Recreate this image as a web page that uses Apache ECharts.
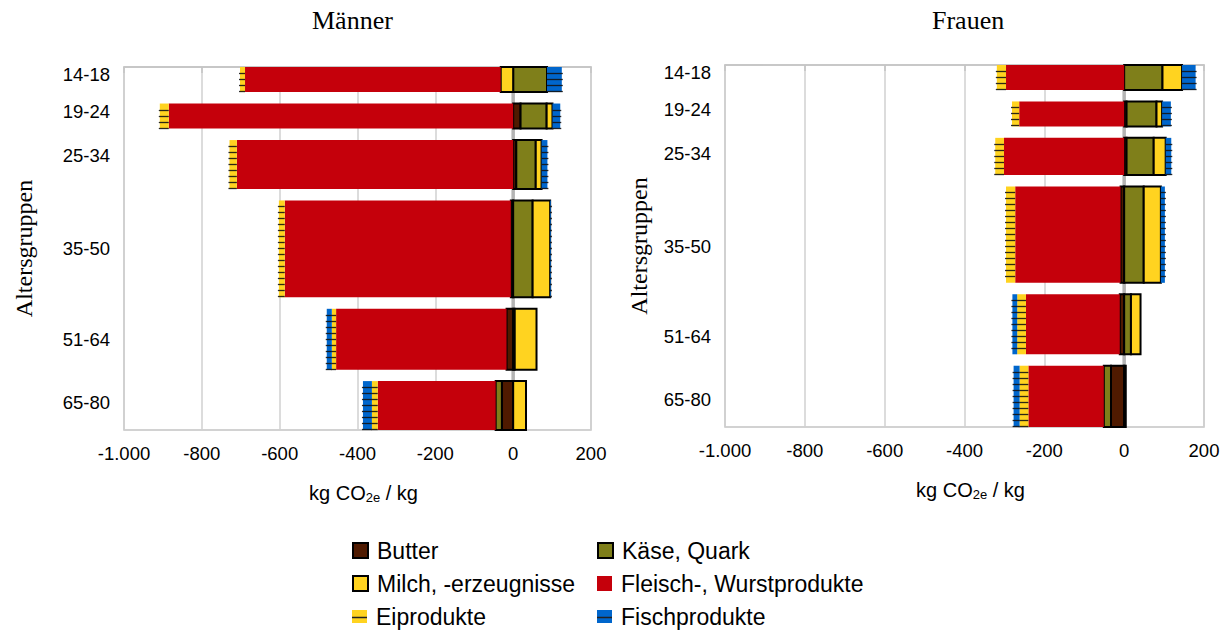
<!DOCTYPE html>
<html><head><meta charset="utf-8">
<script src="https://cdn.jsdelivr.net/npm/echarts@6/dist/echarts.min.js"></script>
<style>html,body{margin:0;padding:0;background:#fff}#c{width:1229px;height:630px}</style>
</head><body><div id="c"></div>
<script>
// ---------- data ----------
const ageGroups = ['14-18', '19-24', '25-34', '35-50', '51-64', '65-80'];
const seriesNames = ['Butter', 'Käse, Quark', 'Milch, -erzeugnisse', 'Fleisch-, Wurstprodukte', 'Eiprodukte', 'Fischprodukte'];
const xTicks = [-1000, -800, -600, -400, -200, 0, 200];

// population share of each age group (%) -> bar thickness
const shareMaenner = [8.2, 8.2, 16.0, 31.7, 19.9, 16.0];
const shareFrauen  = [8.2, 8.2, 12.2, 31.6, 19.7, 20.1];

// kg CO2e / kg
const maennerButter  = [0, 19, 8, -6, -17, -29];
const maennerKaese   = [87, 67, 50, 50, 4, -16];
const maennerMilch   = [-32, 15, 15, 45, 56, 33];
const maennerFleisch = [-657, -885, -710, -581, -438, -303];
const maennerEi      = [-13, -23, -19, -15, -11, -15];
const maennerFisch   = [38, 20, 15, 2, -13, -23];

const frauenButter  = [0, 6, 6, -9, -11, -33];
const frauenKaese   = [96, 75, 68, 49, 17, -18];
const frauenMilch   = [49, 14, 30, 43, 24, 4];
const frauenFleisch = [-296, -263, -301, -264, -235, -189];
const frauenEi      = [-23, -18, -22, -23, -22, -22];
const frauenFisch   = [34, 22, 14, 10, -12, -15];

// ---------- styling ----------
const GAP = 3.75;
const COLORS = ['#4f1a00', '#7f7f1a', '#ffd320', '#c5000b', '#ffd320', '#0066cc'];
const KIND = ['border', 'border', 'border', 'plain', 'hatch', 'hatch'];
const SANS = 'Liberation Sans';
const SERIF = 'Liberation Serif';

function makeRender(kind, color) {
  return function (params, api) {
    const x0 = api.value(0), x1 = api.value(1), y0 = api.value(2), y1 = api.value(3);
    if (x0 === x1) return null;
    const p0 = api.coord([x0, y0]);
    const p1 = api.coord([x1, y1]);
    const r = {
      x: Math.min(p0[0], p1[0]), y: Math.min(p0[1], p1[1]),
      width: Math.abs(p1[0] - p0[0]), height: Math.abs(p1[1] - p0[1])
    };
    if (kind === 'border') {
      return { type: 'rect', shape: r, style: { fill: color, stroke: '#000', lineWidth: 2 } };
    }
    if (kind === 'plain') {
      return { type: 'rect', shape: r, style: { fill: color } };
    }
    const children = [{ type: 'rect', shape: r, style: { fill: color } }];
    const negative = api.value(4) < 0;
    for (let y = r.y + 6; y < r.y + r.height - 0.5; y += 6) {
      const yy = Math.round(y) + 0.5;
      children.push({
        type: 'line',
        shape: { x1: negative ? r.x - 1 : r.x, y1: yy, x2: negative ? r.x + r.width : r.x + r.width + 1, y2: yy },
        style: { stroke: 'rgba(20,20,20,0.9)', lineWidth: 1.3 }
      });
    }
    return { type: 'group', children };
  };
}

function groupStarts(shares) {
  const out = []; let acc = 0;
  shares.forEach(s => { out.push(acc); acc += s + GAP; });
  return out;
}
function total(shares) { return shares.reduce((a, b) => a + b, 0) + GAP * (shares.length - 1); }
function centersOf(shares) { return groupStarts(shares).map((y, i) => y + shares[i] / 2); }

function buildSeries(values, shares, idx) {
  const n = ageGroups.length;
  const pos = new Array(n).fill(0), neg = new Array(n).fill(0);
  const ys = groupStarts(shares);
  const list = values.map((arr, s) => {
    const data = arr.map((v, i) => {
      let a, b;
      if (v >= 0) { a = pos[i]; b = a + v; pos[i] = b; }
      else { a = neg[i]; b = a + v; neg[i] = b; }
      return [a, b, ys[i], ys[i] + shares[i], v];
    });
    return {
      type: 'custom', name: seriesNames[s], xAxisIndex: idx, yAxisIndex: idx,
      data, encode: { x: [0, 1], y: [2, 3] }, z: 3,
      itemStyle: { color: COLORS[s] },
      renderItem: makeRender(KIND[s], COLORS[s])
    };
  });
  list.push({
    type: 'custom', name: 'zero' + idx, xAxisIndex: idx, yAxisIndex: idx, silent: true, z: 2,
    data: [[0, 0, total(shares)]], encode: { x: 0, y: [1, 2] },
    renderItem: (p, api) => {
      const a = api.coord([0, api.value(1)]), b = api.coord([0, api.value(2)]);
      return { type: 'line', shape: { x1: a[0], y1: a[1], x2: b[0], y2: b[1] }, style: { stroke: '#b4b4b4', lineWidth: 3.5 } };
    }
  });
  return list;
}

function fmtDE(v) {
  const s = Math.abs(v).toString().replace(/\B(?=(\d{3})+(?!\d))/g, '.');
  return (v < 0 ? '-' : '') + s;
}

function xAxisOf(idx) {
  return {
    type: 'value', gridIndex: idx, min: xTicks[0], max: xTicks[xTicks.length - 1], interval: 200,
    axisLine: { show: true, lineStyle: { color: '#c4c4c4', width: 1.5 } },
    axisTick: { show: true, length: 6, lineStyle: { color: '#c4c4c4', width: 1.5 } },
    splitLine: { show: true, lineStyle: { color: '#d0d0d0', width: 1.5 } },
    axisLabel: { fontFamily: SANS, fontSize: 18.5, color: '#000', margin: 14, formatter: fmtDE },
    name: '{a|kg CO}{s|2e}{a| / kg}', nameLocation: 'middle', nameGap: 52,
    nameTextStyle: {
      padding: [0, 0, 0, 12],
      rich: {
        a: { fontFamily: SANS, fontSize: 20, color: '#000', lineHeight: 22 },
        s: { fontFamily: SANS, fontSize: 13, color: '#000', lineHeight: 13, verticalAlign: 'bottom' }
      }
    }
  };
}

// tick labels of both panels sit at the same heights (taken from the Männer layout)
const labelCenters = centersOf(shareMaenner).map((c, i) => c - [1.6, 1.6, 3, 0, 0, 1][i]);

function yAxisOf(idx, shares, nameGap) {
  return {
    type: 'value', gridIndex: idx, min: 0, max: total(shares), inverse: true,
    axisLine: { show: false }, axisTick: { show: false }, splitLine: { show: false },
    axisLabel: {
      customValues: labelCenters, fontFamily: SANS, fontSize: 18.5, color: '#000', margin: 14,
      formatter: v => { const i = labelCenters.findIndex(c => Math.abs(c - v) < 1e-6); return i >= 0 ? ageGroups[i] : ''; }
    },
    name: 'Altersgruppen', nameLocation: 'middle', nameRotate: 90, nameGap: nameGap,
    nameTextStyle: { fontFamily: SERIF, fontSize: 24, color: '#000' }
  };
}

const legendText = { fontFamily: SANS, fontSize: 23, color: '#000', padding: [0, 0, 0, 4] };
// legend slots: row by row, two columns
const legendPos = [[352, 539], [597, 539], [352, 572], [597, 572], [352, 605], [597, 605]];
function legendOf(s) {
  const st = { color: COLORS[s] };
  if (KIND[s] === 'border') { st.borderColor = '#000'; st.borderWidth = 2; }
  else { st.borderWidth = 0; }
  const p = legendPos[s];
  return {
    left: p[0], top: p[1], padding: 0, orient: 'horizontal', itemWidth: 15, itemHeight: KIND[s] === 'hatch' ? 13 : 15,
    selectedMode: false, textStyle: legendText,
    data: [{ name: seriesNames[s], icon: 'rect', itemStyle: st }]
  };
}

const chart = echarts.init(document.getElementById('c'), null, { renderer: 'svg' });
chart.setOption({
  animation: false,
  backgroundColor: '#fff',
  title: [
    { text: 'Männer', left: 312, top: 7, padding: 0, textStyle: { fontFamily: SERIF, fontSize: 26, fontWeight: 'normal', color: '#000' } },
    { text: 'Frauen', left: 932, top: 7, padding: 0, textStyle: { fontFamily: SERIF, fontSize: 26, fontWeight: 'normal', color: '#000' } }
  ],
  grid: [
    { left: 124, right: 638, top: 67, bottom: 200, show: true, borderColor: '#c4c4c4', borderWidth: 1.5 },
    { left: 725, right: 25, top: 65, bottom: 203, show: true, borderColor: '#c4c4c4', borderWidth: 1.5 }
  ],
  xAxis: [xAxisOf(0), xAxisOf(1)],
  yAxis: [yAxisOf(0, shareMaenner, 88), yAxisOf(1, shareFrauen, 74)],
  legend: [0, 1, 2, 3, 4, 5].map(legendOf),
  series: [
    ...buildSeries([maennerButter, maennerKaese, maennerMilch, maennerFleisch, maennerEi, maennerFisch], shareMaenner, 0),
    ...buildSeries([frauenButter, frauenKaese, frauenMilch, frauenFleisch, frauenEi, frauenFisch], shareFrauen, 1)
  ],
  graphic: [
    { type: 'line', shape: { x1: 352, y1: 617.5, x2: 367, y2: 617.5 }, style: { stroke: '#222', lineWidth: 1.5 }, z: 100 },
    { type: 'line', shape: { x1: 597, y1: 617.5, x2: 612, y2: 617.5 }, style: { stroke: '#222', lineWidth: 1.5 }, z: 100 }
  ]
});
</script></body></html>
